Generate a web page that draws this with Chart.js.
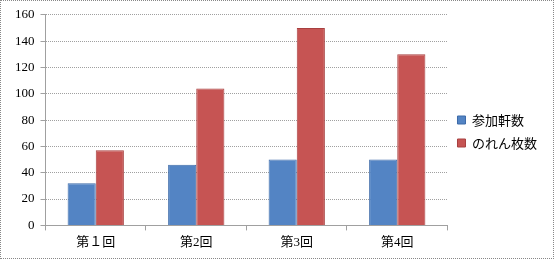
<!DOCTYPE html>
<html>
<head>
<meta charset="utf-8">
<script src="https://cdn.jsdelivr.net/npm/chart.js@4"></script>
<style>
  html, body { margin: 0; padding: 0; background: #fff; }
  #wrap { position: relative; width: 552px; height: 257px; border: 1px dotted #888; }
</style>
</head>
<body>
<div id="wrap"><canvas id="chart" width="552" height="257"></canvas></div>
<script>
const categories = ['第１回', '第2回', '第3回', '第4回'];
const shopCounts = [32, 46, 50, 50];
const norenCounts = [57, 104, 150, 130];
const seriesNames = ['参加軒数', 'のれん枚数'];
const yTicks = [0, 20, 40, 60, 80, 100, 120, 140, 160];

const serif = "'Liberation Serif', 'Noto Sans CJK JP', serif";
const gridColor = '#a0a0a0';

const ctx = document.getElementById('chart').getContext('2d');
new Chart(ctx, {
    type: 'bar',
    data: {
        labels: categories,
        datasets: [
            {
                label: seriesNames[0],
                data: shopCounts,
                backgroundColor: '#5384c4',
                borderColor: '#3d6aa8',
                borderWidth: 1
            },
            {
                label: seriesNames[1],
                data: norenCounts,
                backgroundColor: '#c65453',
                borderColor: '#a84040',
                borderWidth: 1
            }
        ]
    },
    options: {
        responsive: false,
        animation: false,
        layout: { padding: { left: 8, top: 8, right: 6, bottom: 4 } },
        datasets: { bar: { categoryPercentage: 0.56, barPercentage: 1.0 } },
        plugins: {
            tooltip: { enabled: false },
            legend: {
                position: 'right',
                labels: {
                    boxWidth: 8,
                    boxHeight: 8,
                    padding: 10,
                    color: '#000',
                    font: { family: "'Noto Sans CJK JP', sans-serif", size: 13 }
                }
            }
        },
        scales: {
            x: {
                grid: {
                    drawOnChartArea: false,
                    drawTicks: true,
                    tickLength: 5,
                    color: gridColor
                },
                border: { color: gridColor },
                ticks: {
                    color: '#000',
                    padding: 4,
                    font: { family: serif, size: 13 }
                }
            },
            y: {
                min: 0,
                max: 160,
                afterBuildTicks: axis => { axis.ticks = yTicks.map(v => ({ value: v })); },
                grid: {
                    color: gridColor,
                    tickLength: 5
                },
                border: { color: gridColor, dash: [1, 1] },
                ticks: {
                    color: '#000',
                    padding: 6,
                    font: { family: serif, size: 13 }
                }
            }
        }
    }
});
</script>
</body>
</html>
